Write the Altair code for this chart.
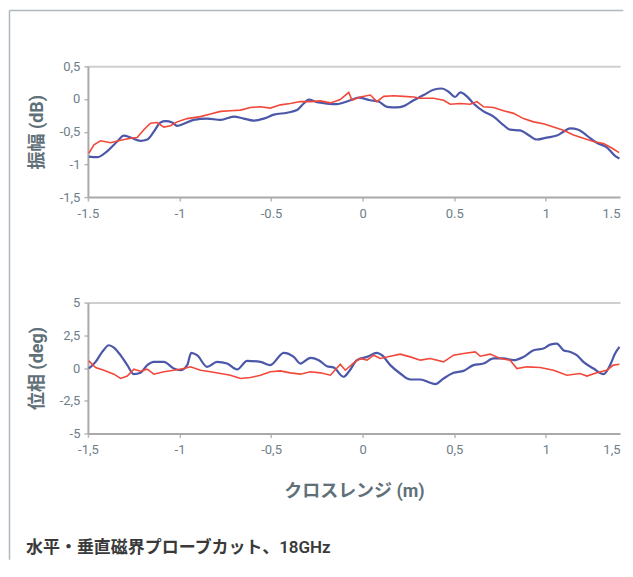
import altair as alt
import pandas as pd

# ---------------- data ----------------
amp_red_x = [-1.495, -1.467, -1.431, -1.376, -1.322, -1.267, -1.231, -1.195, -1.158, -1.122,
             -1.085, -1.049, -1.013, -0.958, -0.885, -0.831, -0.776, -0.722, -0.667, -0.613,
             -0.558, -0.504, -0.449, -0.395, -0.340, -0.285, -0.231, -0.176,
             -0.122, -0.076, -0.058, -0.013, 0.042, 0.078, 0.115, 0.169, 0.224, 0.278,
             0.315, 0.387, 0.442, 0.478, 0.533, 0.587, 0.624, 0.660, 0.715, 0.769,
             0.824, 0.878, 0.933, 0.987, 1.042, 1.096, 1.151, 1.205, 1.260, 1.315, 1.360, 1.400]
amp_red = [-0.83, -0.70, -0.64, -0.67, -0.63, -0.60, -0.59, -0.47, -0.37, -0.36,
           -0.43, -0.41, -0.35, -0.30, -0.27, -0.23, -0.19, -0.18, -0.17, -0.13,
           -0.12, -0.14, -0.09, -0.07, -0.04, -0.04, -0.03, -0.06,
           -0.01, 0.10, -0.02, 0.03, 0.06, -0.04, 0.04, 0.05, 0.04, 0.03,
           0.01, 0.01, -0.02, -0.08, -0.07, -0.08, -0.04, -0.12, -0.13, -0.18,
           -0.22, -0.30, -0.35, -0.38, -0.43, -0.48, -0.55, -0.60, -0.65, -0.68, -0.75, -0.82]

amp_blue_x = [-1.495, -1.449, -1.395, -1.340, -1.304, -1.267, -1.213, -1.176, -1.140, -1.104,
              -1.076, -1.040, -1.013, -0.976, -0.922, -0.849, -0.776, -0.704, -0.649, -0.595,
              -0.540, -0.485, -0.413, -0.358, -0.322, -0.295, -0.249, -0.195, -0.140,
              -0.122, -0.067, -0.022, 0.042, 0.087, 0.133, 0.187, 0.224, 0.278, 0.333,
              0.387, 0.433, 0.469, 0.505, 0.533, 0.569, 0.605, 0.660, 0.715, 0.769,
              0.805, 0.860, 0.905, 0.951, 1.005, 1.060, 1.096, 1.133, 1.178, 1.224,
              1.278, 1.333, 1.378, 1.402]
amp_blue = [-0.88, -0.89, -0.80, -0.65, -0.56, -0.59, -0.64, -0.62, -0.50, -0.36,
            -0.34, -0.36, -0.41, -0.38, -0.32, -0.30, -0.32, -0.27, -0.30, -0.33,
            -0.30, -0.24, -0.21, -0.17, -0.07, -0.01, -0.05, -0.07, -0.08,
            -0.07, -0.02, 0.02, -0.02, -0.04, -0.12, -0.13, -0.11, -0.02, 0.06,
            0.14, 0.16, 0.11, 0.03, 0.10, 0.04, -0.07, -0.19, -0.27, -0.40,
            -0.47, -0.48, -0.55, -0.62, -0.59, -0.56, -0.50, -0.45, -0.47, -0.56,
            -0.67, -0.74, -0.87, -0.91]

ph_red_x = [-1.495, -1.458, -1.413, -1.358, -1.322, -1.285, -1.249, -1.213, -1.176, -1.140,
            -1.085, -1.031, -0.976, -0.940, -0.885, -0.831, -0.776, -0.722, -0.667, -0.613,
            -0.558, -0.504, -0.449, -0.395, -0.340, -0.285, -0.231, -0.176,
            -0.122, -0.095, -0.049, -0.013, 0.024, 0.060, 0.096, 0.151, 0.205, 0.260,
            0.315, 0.369, 0.442, 0.496, 0.551, 0.615, 0.642, 0.696, 0.751, 0.805,
            0.842, 0.896, 0.969, 1.042, 1.115, 1.187, 1.224, 1.278, 1.333, 1.369, 1.402]
ph_red = [0.55, 0.04, -0.17, -0.47, -0.80, -0.62, -0.09, -0.24, -0.09, -0.47,
          -0.29, -0.17, -0.04, 0.09, -0.17, -0.29, -0.42, -0.55, -0.80, -0.73,
          -0.55, -0.29, -0.22, -0.37, -0.47, -0.29, -0.37, -0.55,
          0.29, -0.17, 0.39, 0.73, 0.60, 0.98, 0.73, 0.90, 1.06, 0.85,
          0.60, 0.73, 0.47, 0.98, 1.11, 1.23, 0.90, 1.06, 0.73, 0.60,
          -0.04, 0.09, 0.04, -0.17, -0.55, -0.42, -0.62, -0.37, -0.17, 0.22, 0.29]

ph_blue_x = [-1.495, -1.458, -1.422, -1.385, -1.358, -1.322, -1.285, -1.249, -1.213, -1.176,
             -1.140, -1.085, -1.031, -0.995, -0.958, -0.936, -0.904, -0.849, -0.795, -0.740,
             -0.685, -0.631, -0.558, -0.504, -0.431, -0.376, -0.340, -0.285, -0.240, -0.195,
             -0.158,
             -0.104, -0.076, -0.031, 0.024, 0.078, 0.105, 0.151, 0.205, 0.260, 0.315,
             0.369, 0.396, 0.442, 0.496, 0.551, 0.605, 0.660, 0.715, 0.769, 0.824,
             0.878, 0.933, 0.987, 1.024, 1.060, 1.096, 1.133, 1.169, 1.205, 1.260,
             1.315, 1.351, 1.378, 1.402]
ph_blue = [-0.04, 0.47, 1.23, 1.74, 1.56, 0.98, 0.22, -0.47, -0.37, 0.22,
           0.47, 0.47, -0.04, -0.17, 0.22, 1.16, 0.98, 0.09, 0.47, 0.34,
           -0.11, 0.55, 0.47, 0.22, 1.16, 0.85, 0.34, 0.78, 0.60, 0.14,
           0.04,
           -0.67, -0.29, 0.60, 0.85, 1.16, 0.98, 0.22, -0.42, -0.88, -0.88,
           -1.13, -1.23, -0.80, -0.37, -0.22, 0.22, 0.34, 0.73, 0.73, 0.60,
           0.85, 1.36, 1.49, 1.79, 1.87, 1.36, 1.23, 0.98, 0.47, -0.04,
           -0.47, 0.22, 1.11, 1.62]

x_ticks = [-1.5, -1.0, -0.5, 0.0, 0.5, 1.0, 1.405]
amp_ticks = [-1.5, -1.0, -0.5, 0.0, 0.5]
ph_ticks = [-5.0, -2.5, 0.0, 2.5, 5.0]

amp_title = "振幅 (dB)"
ph_title = "位相 (deg)"
x_title = "クロスレンジ (m)"
caption = "水平・垂直磁界プローブカット、18GHz"

# ---------------- styling ----------------
FONT = "Roboto, Noto Sans CJK JP, sans-serif"
LABEL_COLOR = "#6e7e88"
TITLE_COLOR = "#607078"
AXIS_COLOR = "#a9a9a9"
RED = "#f2483a"
BLUE = "#4b57a8"
W, H = 532.7, 131

def series_df(xs, ys, name):
    return pd.DataFrame({"x": xs, "y": ys, "s": name})

def x_axis(title, comma):
    if comma:
        expr = "datum.value > 1.4 ? '1,5' : replace((datum.value < 0 ? '-' : '') + format(abs(datum.value), '~g'), '.', ',')"
    else:
        expr = "datum.value > 1.4 ? '1.5' : (datum.value < 0 ? '-' : '') + format(abs(datum.value), '~g')"
    kw = dict(
        values=x_ticks, labelExpr=expr, grid=False,
        domainColor=AXIS_COLOR, domainWidth=2,
        tickColor="#b8b8b8", tickSize=4, tickWidth=1.5,
        tickOpacity={"condition": {"test": "datum.value > 1.4", "value": 0}, "value": 1},
        labelAlign={"condition": {"test": "datum.value > 1.4", "value": "right"}, "value": "center"},
        labelColor=LABEL_COLOR, labelFont=FONT, labelFontSize=13, labelPadding=6,
        title=title,
    )
    if title is not None:
        kw.update(titleFont=FONT, titleFontSize=18, titleFontWeight="bold",
                  titleColor=TITLE_COLOR, titlePadding=26)
    return alt.Axis(**kw)

def y_axis(values, title, top):
    return alt.Axis(
        values=values,
        labelExpr="replace((datum.value < 0 ? '-' : '') + format(abs(datum.value), '~g'), '.', ',')",
        grid=True, gridColor="#cfcfcf", gridWidth=2,
        gridOpacity={"condition": {"test": f"datum.value == {top}", "value": 1}, "value": 0},
        domainColor=AXIS_COLOR, domainWidth=2,
        tickColor="#b8b8b8", tickSize=4, tickWidth=1.5,
        labelColor=LABEL_COLOR, labelFont=FONT, labelFontSize=13, labelPadding=4,
        title=title, titleFont=FONT, titleFontSize=18, titleFontWeight="bold",
        titleColor=TITLE_COLOR, titlePadding=13,
    )

def panel(red_df, blue_df, ydom, yvals, ytitle, xtitle, comma):
    df = pd.concat([red_df, blue_df], ignore_index=True)
    xs = alt.X("x:Q", scale=alt.Scale(domain=[-1.5, 1.405], nice=False, zero=False),
               axis=x_axis(xtitle, comma))
    ys = alt.Y("y:Q", scale=alt.Scale(domain=ydom, nice=False, zero=False),
               axis=y_axis(yvals, ytitle, ydom[1]))
    base = alt.Chart(df)
    red = base.transform_filter("datum.s == 'red'").mark_line(
        color=RED, strokeWidth=1.6, interpolate="linear").encode(x=xs, y=ys, order="x:Q")
    blue = base.transform_filter("datum.s == 'blue'").mark_line(
        color=BLUE, strokeWidth=2.2, interpolate="monotone").encode(x=xs, y=ys, order="x:Q")
    return red, blue

r1, b1 = panel(series_df(amp_red_x, amp_red, "red"), series_df(amp_blue_x, amp_blue, "blue"),
               [-1.5, 0.5], amp_ticks, amp_title, None, False)
r2, b2 = panel(series_df(ph_red_x, ph_red, "red"), series_df(ph_blue_x, ph_blue, "blue"),
               [-5, 5], ph_ticks, ph_title, x_title, True)

one = pd.DataFrame({"t": [caption]})
FRAME = "#aeb8bf"
frame_v = alt.Chart(one).mark_rule(color=FRAME, strokeWidth=1.5).encode(
    x=alt.value(-78.5), y=alt.value(-55.7), y2=alt.value(494))
frame_h = alt.Chart(one).mark_rule(color=FRAME, strokeWidth=1.5).encode(
    y=alt.value(-55.7), x=alt.value(-78.5), x2=alt.value(536))

cap = alt.Chart(one).mark_text(
    align="left", baseline="middle", font=FONT, fontSize=17, fontWeight=600, color="#3a3a3a"
).encode(x=alt.value(-62), y=alt.value(246), text="t:N")

top = alt.layer(frame_v, frame_h, b1, r1).properties(width=W, height=H)
bottom = alt.layer(b2, r2, cap).properties(width=W, height=H)

chart = alt.vconcat(top, bottom, spacing=105.6, bounds="flush").properties(
    padding={"left": 0, "top": 1, "right": 0, "bottom": 0}
).configure_view(stroke=None)

chart.save("out.html", embed_options={"renderer": "svg", "actions": False})
